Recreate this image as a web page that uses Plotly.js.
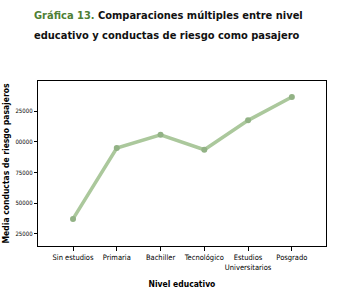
<!DOCTYPE html>
<html><head><meta charset="utf-8">
<script src="https://cdn.plot.ly/plotly-3.0.1.min.js"></script>
<style>html,body{margin:0;padding:0;background:#fff}#c{width:342px;height:301px}</style>
</head><body><div id="c"></div>
<script>
const categories = ["Sin estudios","Primaria","Bachiller","Tecnológico","Estudios<br>Universitarios","Posgrado"];
const values = [0.372, 0.949, 1.057, 0.935, 1.174, 1.364];
const tickVals = [1.25, 1.00, 0.75, 0.50, 0.25];
const tickText = ["25000","00000","75000","50000","25000"];
const titleLines = ['<span style="color:#4f7f35">Gráfica 13.</span> Comparaciones múltiples entre nivel',
                    'educativo y conductas de riesgo como pasajero'];

const trace = {
  x: categories.map((c,i)=>i), y: values, type:'scatter', mode:'lines+markers',
  line:{color:'#abc89c', width:3.5},
  marker:{color:'#92b285', size:6},
  hoverinfo:'skip'
};
const titleFont = {size:11, color:'#111', weight:'bold', family:'"DejaVu Sans Condensed", sans-serif'};
const layout = {
  width:342, height:301,
  margin:{l:38, r:16, t:81, b:55},
  paper_bgcolor:'#fff', plot_bgcolor:'#fff',
  showlegend:false,
  font:{family:'"DejaVu Sans Condensed", sans-serif', color:'#111'},
  annotations:[
    {text:titleLines[0], font:titleFont, xref:'paper', yref:'paper',
     x:(168-38)/288, y:1+(81-15)/165, xanchor:'center', yanchor:'middle', showarrow:false},
    {text:titleLines[1], font:titleFont, xref:'paper', yref:'paper',
     x:(167-38)/288, y:1+(81-35)/165, xanchor:'center', yanchor:'middle', showarrow:false}
  ],
  xaxis:{range:[-0.8,5.78], tickvals:categories.map((c,i)=>i), ticktext:categories, tickangle:0,
    showgrid:false, zeroline:false, showline:true, linecolor:'#000', linewidth:1.2, mirror:true,
    ticks:'outside', ticklen:4, tickcolor:'#000', tickfont:{size:7.5, color:'#000'},
    title:{text:'Nivel educativo', font:{size:8.5, color:'#000', weight:'bold'}, standoff:10}},
  yaxis:{range:[0.152,1.494], tickvals:tickVals, ticktext:tickText,
    showgrid:false, zeroline:false, showline:true, linecolor:'#000', linewidth:1.2, mirror:true,
    ticks:'outside', ticklen:3, tickcolor:'#000', tickfont:{size:6, color:'#000'},
    title:{text:'Media conductas de riesgo pasajeros', font:{size:8.5, color:'#000', weight:'bold'}, standoff:4}}
};
Plotly.newPlot('c',[trace],layout,{displayModeBar:false,staticPlot:true});
</script></body></html>
